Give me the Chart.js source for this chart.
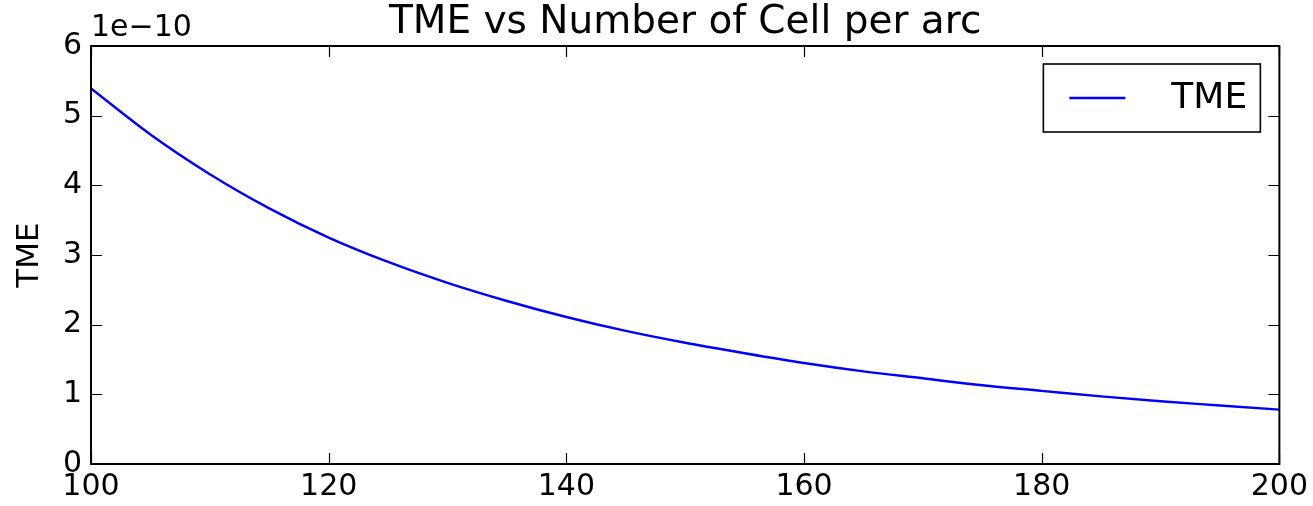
<!DOCTYPE html>
<html>
<head>
<meta charset="utf-8">
<script src="https://cdn.jsdelivr.net/npm/chart.js@4.4.1/dist/chart.umd.min.js"></script>
<style>
html,body{margin:0;padding:0;background:#fff;}
canvas{display:block;}
</style>
</head>
<body>
<canvas id="c" width="1313" height="506"></canvas>
<script>
// Data
const cellsPerArc = [100,105,110,115,120,125,130,135,140,145,150,155,160,165,170,175,180,185,190,195,200];
const tmeValues = [5.39e-10,4.73e-10,4.16e-10,3.67e-10,3.25e-10,2.90e-10,2.60e-10,2.34e-10,2.11e-10,1.91e-10,1.74e-10,1.59e-10,1.45e-10,1.33e-10,1.23e-10,1.13e-10,1.05e-10,0.97e-10,0.90e-10,0.84e-10,0.78e-10];
const xTickValues = [100,120,140,160,180,200];
const yTickValues = [0,1,2,3,4,5,6];
const yExponent = -10;
const titleText = 'TME vs Number of Cell per arc';
const yLabelText = 'TME';
const seriesLabel = 'TME';

const FONT = "'DejaVu Sans', sans-serif";
const scaleFactor = Math.pow(10, yExponent);
const points = cellsPerArc.map((x,i)=>({x:x, y:tmeValues[i]}));

const framePlugin = {
  id:'frame',
  afterDatasetsDraw(chart){
    const ctx = chart.ctx, a = chart.chartArea;
    const xs = chart.scales.x, ys = chart.scales.y;
    ctx.save();
    ctx.strokeStyle = '#000';
    ctx.lineWidth = 1.2;
    const L = 11;
    xTickValues.forEach(v=>{
      const px = Math.round(xs.getPixelForValue(v))+0.5;
      ctx.beginPath();
      ctx.moveTo(px,a.bottom); ctx.lineTo(px,a.bottom-L);
      ctx.moveTo(px,a.top); ctx.lineTo(px,a.top+L);
      ctx.stroke();
    });
    yTickValues.forEach(v=>{
      const py = Math.round(ys.getPixelForValue(v*scaleFactor))+0.5;
      ctx.beginPath();
      ctx.moveTo(a.left,py); ctx.lineTo(a.left+L,py);
      ctx.moveTo(a.right,py); ctx.lineTo(a.right-L,py);
      ctx.stroke();
    });
    ctx.lineWidth = 2;
    ctx.strokeRect(a.left, a.top, a.right-a.left, a.bottom-a.top);
    // title centred over the plot area
    ctx.fillStyle = '#000';
    ctx.font = '39px ' + FONT;
    ctx.textAlign = 'center';
    ctx.textBaseline = 'alphabetic';
    ctx.fillText(titleText, (a.left+a.right)/2, a.top - 13);
    // offset text
    ctx.font = '30px ' + FONT;
    ctx.textAlign = 'left';
    ctx.fillText('1e\u2212' + Math.abs(yExponent), a.left, a.top - 10);
    // legend
    const ds = chart.data.datasets[0];
    const bw = 217, bh = 68;
    const bx = a.right - 19 - bw, by = a.top + 18;
    ctx.fillStyle = '#fff';
    ctx.fillRect(bx,by,bw,bh);
    ctx.lineWidth = 1.6;
    ctx.strokeRect(bx,by,bw,bh);
    ctx.strokeStyle = ds.borderColor;
    ctx.lineWidth = ds.borderWidth;
    ctx.beginPath();
    ctx.moveTo(bx+26, by+bh/2); ctx.lineTo(bx+82, by+bh/2);
    ctx.stroke();
    ctx.fillStyle = '#000';
    ctx.font = '36px ' + FONT;
    ctx.textBaseline = 'middle';
    ctx.fillText(ds.label, bx+128, by+bh/2+1);
    ctx.restore();
  }
};

new Chart(document.getElementById('c'), {
  type:'line',
  data:{
    datasets:[{
      label: seriesLabel,
      data: points,
      borderColor:'#0000ff',
      borderWidth:2.4,
      pointRadius:0,
      cubicInterpolationMode:'monotone',
      fill:false
    }]
  },
  options:{
    responsive:false,
    animation:false,
    devicePixelRatio:1,
    layout:{padding:{left:0,right:32,top:46,bottom:0}},
    plugins:{
      legend:{display:false},
      tooltip:{enabled:false},
      title:{display:false}
    },
    scales:{
      x:{
        type:'linear',
        min:100, max:200,
        afterBuildTicks(s){ s.ticks = xTickValues.map(v=>({value:v})); },
        afterFit(s){ s.height = 42; },
        grid:{display:false, drawTicks:false},
        border:{display:false},
        ticks:{
          color:'#000',
          font:{family:FONT,size:30},
          padding:5,
          maxRotation:0,
          autoSkip:false,
          callback:(v)=>String(v)
        }
      },
      y:{
        type:'linear',
        min:0, max:6*scaleFactor,
        afterBuildTicks(s){ s.ticks = yTickValues.map(v=>({value:v*scaleFactor})); },
        afterFit(s){ s.width = 91; },
        grid:{display:false, drawTicks:false},
        border:{display:false},
        title:{
          display:true,
          text:yLabelText,
          color:'#000',
          font:{family:FONT,size:31},
          padding:{top:11,bottom:0}
        },
        ticks:{
          color:'#000',
          font:{family:FONT,size:30},
          padding:9,
          autoSkip:false,
          callback:(v)=>String(Math.round(v/scaleFactor))
        }
      }
    }
  },
  plugins:[framePlugin]
});
</script>
</body>
</html>
